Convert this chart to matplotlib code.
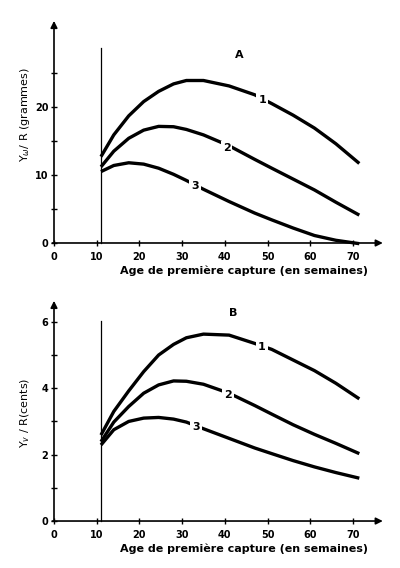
import numpy as np
import matplotlib
matplotlib.use("Agg")
import matplotlib.pyplot as plt

# Age at first capture (weeks)
age = [11, 14, 17.5, 21, 24.5, 28, 31, 35, 41, 47, 51, 56, 61, 66, 71.5]

# Panel A : Y_w/R (grammes)
a_curve1 = [12.7, 15.9, 18.7, 20.8, 22.3, 23.4, 23.9, 23.9, 23.1, 21.8, 20.5, 18.8, 16.9, 14.6, 11.7]
a_curve2 = [11.2, 13.5, 15.4, 16.6, 17.15, 17.1, 16.7, 15.9, 14.3, 12.3, 11.0, 9.4, 7.8, 6.0, 4.1]
a_curve3 = [10.5, 11.4, 11.8, 11.6, 11.0, 10.1, 9.2, 7.9, 6.1, 4.4, 3.4, 2.2, 1.1, 0.4, -0.1]
a_yticks = [0, 10, 20]
a_yminor = [5, 15, 25]

# Panel B : Y_v/R (cents)
b_curve1 = [2.59, 3.3, 3.92, 4.5, 5.0, 5.32, 5.52, 5.63, 5.6, 5.35, 5.17, 4.85, 4.53, 4.15, 3.68]
b_curve2 = [2.39, 2.98, 3.45, 3.85, 4.1, 4.22, 4.21, 4.12, 3.85, 3.48, 3.22, 2.9, 2.61, 2.34, 2.03]
b_curve3 = [2.29, 2.75, 3.0, 3.1, 3.12, 3.07, 2.98, 2.78, 2.49, 2.2, 2.03, 1.82, 1.63, 1.46, 1.29]
b_yticks = [0, 2, 4, 6]
b_yminor = [1, 3, 5]

x_ticks = [0, 10, 20, 30, 40, 50, 60, 70]
xlabel = "Age de première capture (en semaines)"

fig = plt.figure(figsize=(4, 5.68), dpi=100)


def draw_panel(ax, curves, labels_pos, ymax, yticks, yminor, vline_top, letter_pos, letter, ylabel, ylabel_y):
    for s in ax.spines.values():
        s.set_visible(False)

    for c in curves:
        ax.plot(age, c, color="black", lw=2.4, solid_capstyle="butt", solid_joinstyle="round",
                clip_on=False, zorder=3)

    for (lx, ly), t in zip(labels_pos, ["1", "2", "3"]):
        ax.text(lx, ly, t, fontsize=8, fontweight="bold", ha="center", va="center", zorder=4,
                bbox=dict(facecolor="white", edgecolor="none", pad=1.5))

    ax.set_xticks(x_ticks)
    ax.set_yticks(yticks)
    ax.set_yticks(yminor, minor=True)
    ax.tick_params(direction="inout", length=5, width=1.0, labelsize=7)
    ax.tick_params(which="minor", direction="inout", length=5, width=1.0)
    ax.tick_params(axis="x", pad=4)
    ax.tick_params(axis="y", pad=1.5)
    ax.set_xlim(0, 77)
    ax.set_ylim(0, ymax)
    for lab in ax.get_xticklabels() + ax.get_yticklabels():
        lab.set_fontweight("bold")

    # axes with arrows
    ax.annotate("", xy=(77, 0), xytext=(-0.4, 0), annotation_clip=False,
                arrowprops=dict(arrowstyle="-|>", lw=1.2, color="black", mutation_scale=10, shrinkA=0, shrinkB=0))
    ax.annotate("", xy=(0, ymax * 0.99), xytext=(0, 0), annotation_clip=False,
                arrowprops=dict(arrowstyle="-|>", lw=1.2, color="black", mutation_scale=10, shrinkA=0, shrinkB=0))
    ax.plot([11, 11], [0, vline_top], color="black", lw=0.9, clip_on=False)

    ax.text(letter_pos[0], letter_pos[1], letter, fontsize=8, fontweight="bold", ha="center", va="center")

    ax.annotate(xlabel, xy=(73.5, 0), xycoords="data", xytext=(0, -20), textcoords="offset points",
                ha="right", va="center", fontsize=8, fontweight="bold", annotation_clip=False)
    fig.text(25 / 400, 1 - ylabel_y / 568, ylabel, rotation=90, ha="center", va="center", fontsize=8)


ax_a = fig.add_axes([0.135, 0.5722, 0.822, 0.395])
draw_panel(ax_a, [a_curve1, a_curve2, a_curve3],
           [(48.8, 21.0), (40.4, 13.9), (33.0, 8.4)],
           33, a_yticks, a_yminor, 28.7, (43.4, 27.6), "A",
           r"Y$_\omega$/ R (grammes)", 115)

ax_b = fig.add_axes([0.135, 0.0827, 0.822, 0.3916])
draw_panel(ax_b, [b_curve1, b_curve2, b_curve3],
           [(48.7, 5.23), (40.8, 3.8), (33.2, 2.84)],
           6.7, b_yticks, b_yminor, 6.02, (42.0, 6.27), "B",
           r"Y$_v$ / R(cents)", 413)

fig.savefig("out.png", dpi=100, facecolor="white")
